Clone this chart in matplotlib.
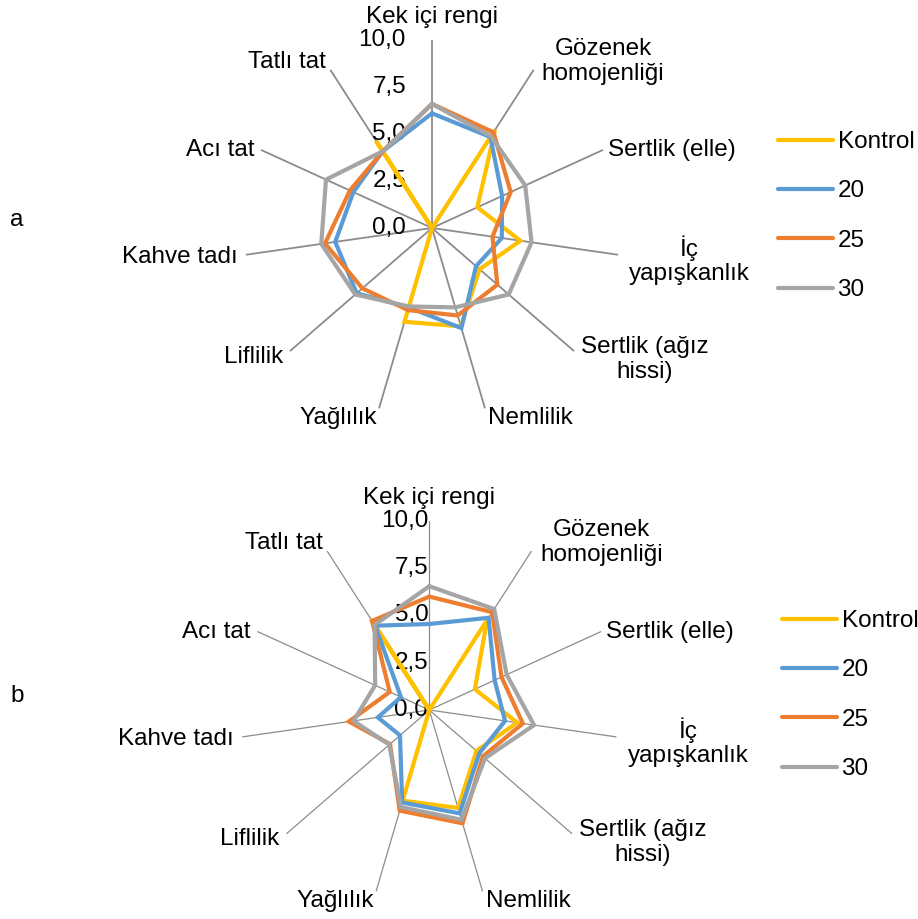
import numpy as np
import matplotlib
matplotlib.use('Agg')
import matplotlib.pyplot as plt

plt.rcParams['font.family'] = ['Liberation Sans', 'DejaVu Sans']

# sensory attributes, clockwise from the top
categories = ["Kek içi rengi", "Gözenek\nhomojenliği", "Sertlik (elle)", "İç\nyapışkanlık",
              "Sertlik (ağız\nhissi)", "Nemlilik", "Yağlılık", "Liflilik", "Kahve tadı",
              "Acı tat", "Tatlı tat"]
series = ["Kontrol", "20", "25", "30"]
colors = ["#FFC000", "#5B9BD5", "#ED7D31", "#A5A5A5"]
ticks = [0, 2.5, 5, 7.5, 10]
tick_labels = ["0,0", "2,5", "5,0", "7,5", "10,0"]

# panel a scores
a_kontrol = [0, 6.2, 2.65, 4.75, 3.35, 5.45, 5.2, 0, 0, 0, 5.5]
a_20 = [6.1, 5.75, 4.1, 3.75, 3.1, 5.55, 4.4, 5.3, 5.2, 4.6, 4.85]
a_25 = [6.6, 6.05, 4.6, 3.25, 4.6, 4.85, 4.55, 4.9, 5.75, 4.8, 4.85]
a_30 = [6.6, 5.8, 5.45, 5.35, 5.4, 4.4, 4.35, 5.4, 5.95, 6.2, 4.85]

# panel b scores
b_kontrol = [0, 5.65, 2.65, 4.7, 3.3, 5.4, 5.0, 0, 0, 0, 5.7]
b_20 = [4.55, 5.8, 3.8, 4.05, 3.5, 5.7, 5.1, 2.05, 2.75, 1.65, 5.3]
b_25 = [6.0, 6.15, 4.2, 5.0, 3.75, 6.25, 5.55, 2.75, 4.3, 2.3, 5.6]
b_30 = [6.55, 6.35, 4.5, 5.6, 3.9, 6.05, 5.35, 2.8, 4.05, 3.15, 5.35]

# where each category name sits (angle in degrees, radius in score units)
label_pos = [(0, 11.2), (45.8, 12.7), (72.0, 13.4), (97.1, 13.8), (121.8, 13.3),
             (152.7, 11.4), (206.3, 11.3), (234.2, 11.7), (263.4, 13.5),
             (290.2, 12.0), (318.9, 11.7)]

n = len(categories)
theta = np.linspace(0, 2 * np.pi, n, endpoint=False)
theta_closed = np.append(theta, theta[0])

fig = plt.figure(figsize=(9.18, 9.19), dpi=100)
W, H = 918.0, 919.0
fs = 17.5


def radar(cx, cy, rad, data, tick_dx, spoke_lw, letter, let_y, leg_x, leg_y):
  left = (cx - rad) / W
  bottom = 1 - (cy + rad) / H
  ax = fig.add_axes([left, bottom, 2 * rad / W, 2 * rad / H], projection='polar')
  ax.set_theta_zero_location('N')
  ax.set_theta_direction(-1)
  ax.set_ylim(0, 10)
  ax.grid(False)
  ax.set_xticks([])
  ax.set_yticks([])
  ax.spines['polar'].set_visible(False)
  ax.patch.set_alpha(0)

  # spokes
  for t in theta:
    ax.plot([t, t], [0, 10], color='#8c8c8c', lw=spoke_lw, zorder=1)

  # value labels on the vertical axis
  for v, s in zip(ticks, tick_labels):
    ax.annotate(s, xy=(0, v), xytext=(tick_dx, 0), textcoords='offset pixels',
                ha='right', va='center', fontsize=fs, annotation_clip=False)

  for vals, name, c in zip(data, series, colors):
    ax.plot(theta_closed, np.append(vals, vals[0]), color=c, lw=3.0, label=name,
            solid_joinstyle='miter', solid_capstyle='round', zorder=3)

  for lbl, (ang, r) in zip(categories, label_pos):
    ax.text(np.deg2rad(ang), r, lbl, ha='center', va='center', fontsize=fs,
            linespacing=1.15)

  fig.text(17 / W, 1 - let_y / H, letter, fontsize=fs, ha='center', va='center')

  ax.legend(loc='upper left', bbox_to_anchor=(leg_x / W, 1 - leg_y / H),
            bbox_transform=fig.transFigure, frameon=False, fontsize=fs,
            handlelength=2.25, handletextpad=0.2, labelspacing=1.13,
            borderpad=0, borderaxespad=0)
  return ax


radar(432, 228, 188, [a_kontrol, a_20, a_25, a_30], -26, 1.3, "a", 220, 778, 131)
radar(429.3, 710, 189, [b_kontrol, b_20, b_25, b_30], -1, 0.9, "b", 696, 782, 610)

plt.savefig("out.png", dpi=100)
